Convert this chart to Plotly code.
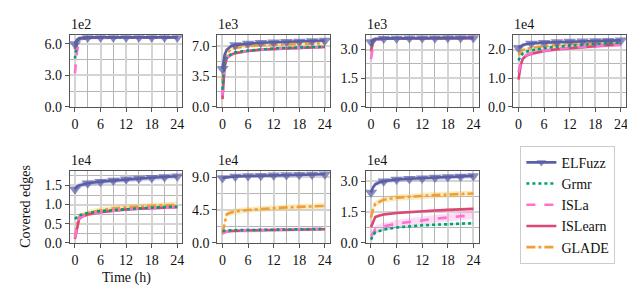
import plotly.graph_objects as go

# ---------------- data ----------------
hours = [0, 0.5, 1, 2, 3, 6, 9, 12, 15, 18, 21, 24]
series_names = ["ELFuzz", "Grmr", "ISLa", "ISLearn", "GLADE"]
exponents = ["1e2", "1e3", "1e3", "1e4", "1e4", "1e4", "1e4"]
y_major = [3.0, 3.5, 1.5, 1.0, 0.5, 4.5, 1.5]
y_top = [6.83, 8.27, 3.75, 2.5, 1.88, 9.85, 3.5]
x_ticks = [0, 6, 12, 18, 24]

p1 = {
    "ELFuzz":  [6.0, 6.4, 6.55, 6.6, 6.62, 6.63, 6.63, 6.63, 6.63, 6.63, 6.63, 6.63],
    "Grmr":    [4.6, 6.2, 6.45, 6.55, 6.58, 6.6, 6.6, 6.61, 6.61, 6.61, 6.61, 6.61],
    "ISLa":    [3.2, 5.3, 6.35, 6.5, 6.55, 6.58, 6.6, 6.6, 6.6, 6.6, 6.6, 6.6],
    "ISLearn": [5.5, 6.3, 6.45, 6.52, 6.56, 6.58, 6.59, 6.6, 6.6, 6.6, 6.6, 6.6],
    "GLADE":   [5.8, 6.35, 6.5, 6.56, 6.58, 6.6, 6.6, 6.61, 6.61, 6.61, 6.61, 6.61],
}
p2 = {
    "ELFuzz":  [4.4, 6.0, 6.6, 7.0, 7.15, 7.3, 7.4, 7.45, 7.5, 7.55, 7.6, 7.65],
    "Grmr":    [2.0, 5.0, 5.8, 6.1, 6.3, 6.5, 6.65, 6.75, 6.8, 6.85, 6.9, 6.95],
    "ISLa":    [1.3, 4.8, 5.7, 6.05, 6.25, 6.45, 6.6, 6.7, 6.75, 6.8, 6.85, 6.9],
    "ISLearn": [0.9, 4.6, 5.6, 6.0, 6.2, 6.45, 6.6, 6.7, 6.75, 6.8, 6.85, 6.9],
    "GLADE":   [3.0, 5.3, 6.2, 6.6, 6.8, 7.0, 7.1, 7.15, 7.2, 7.25, 7.3, 7.35],
}
p3 = {
    "ELFuzz":  [3.4, 3.52, 3.56, 3.58, 3.58, 3.59, 3.6, 3.6, 3.6, 3.61, 3.61, 3.62],
    "Grmr":    [3.2, 3.45, 3.54, 3.56, 3.57, 3.58, 3.59, 3.59, 3.6, 3.6, 3.6, 3.6],
    "ISLa":    [2.5, 3.2, 3.5, 3.55, 3.56, 3.57, 3.58, 3.58, 3.58, 3.58, 3.58, 3.58],
    "ISLearn": [2.9, 3.4, 3.52, 3.55, 3.56, 3.57, 3.58, 3.58, 3.58, 3.58, 3.58, 3.58],
    "GLADE":   [3.0, 3.4, 3.52, 3.55, 3.56, 3.57, 3.58, 3.58, 3.58, 3.58, 3.58, 3.58],
}
p4 = {
    "ELFuzz":  [2.06, 2.12, 2.16, 2.19, 2.21, 2.24, 2.26, 2.28, 2.29, 2.3, 2.31, 2.32],
    "Grmr":    [1.62, 1.78, 1.86, 1.93, 1.97, 2.05, 2.1, 2.14, 2.17, 2.2, 2.22, 2.24],
    "ISLa":    [1.2, 1.55, 1.72, 1.82, 1.87, 1.96, 2.02, 2.06, 2.1, 2.13, 2.15, 2.17],
    "ISLearn": [0.95, 1.45, 1.68, 1.8, 1.85, 1.95, 2.01, 2.05, 2.09, 2.12, 2.15, 2.17],
    "GLADE":   [1.8, 1.92, 1.98, 2.03, 2.06, 2.12, 2.16, 2.19, 2.21, 2.23, 2.24, 2.25],
}
p5 = {
    "ELFuzz":  [1.4, 1.47, 1.5, 1.53, 1.56, 1.6, 1.63, 1.66, 1.68, 1.7, 1.72, 1.74],
    "Grmr":    [0.62, 0.68, 0.72, 0.75, 0.78, 0.83, 0.86, 0.88, 0.9, 0.92, 0.93, 0.95],
    "ISLa":    [0.12, 0.45, 0.65, 0.71, 0.75, 0.8, 0.84, 0.87, 0.89, 0.9, 0.92, 0.93],
    "ISLearn": [0.1, 0.42, 0.63, 0.7, 0.74, 0.8, 0.84, 0.87, 0.89, 0.9, 0.92, 0.93],
    "GLADE":   [0.15, 0.5, 0.68, 0.74, 0.78, 0.85, 0.9, 0.93, 0.95, 0.97, 0.99, 1.0],
}
p6 = {
    "ELFuzz":  [8.9, 8.95, 9.0, 9.05, 9.1, 9.15, 9.2, 9.25, 9.3, 9.33, 9.37, 9.4],
    "Grmr":    [1.6, 1.65, 1.68, 1.7, 1.72, 1.75, 1.78, 1.8, 1.82, 1.84, 1.86, 1.88],
    "ISLa":    [1.3, 1.45, 1.55, 1.62, 1.66, 1.7, 1.74, 1.77, 1.8, 1.83, 1.86, 1.9],
    "ISLearn": [1.3, 1.45, 1.55, 1.6, 1.64, 1.68, 1.72, 1.75, 1.78, 1.8, 1.82, 1.84],
    "GLADE":   [1.3, 2.8, 3.9, 4.15, 4.3, 4.5, 4.65, 4.75, 4.85, 4.92, 4.98, 5.05],
}
p7 = {
    "ELFuzz":  [2.45, 2.7, 2.85, 2.95, 3.0, 3.08, 3.12, 3.15, 3.18, 3.2, 3.23, 3.26],
    "Grmr":    [0.15, 0.38, 0.5, 0.58, 0.64, 0.74, 0.8, 0.85, 0.88, 0.91, 0.93, 0.95],
    "ISLa":    [0.3, 0.5, 0.65, 0.73, 0.8, 0.93, 1.02, 1.1, 1.17, 1.23, 1.29, 1.35],
    "ISLearn": [0.75, 1.05, 1.25, 1.33, 1.38, 1.45, 1.5, 1.54, 1.57, 1.6, 1.62, 1.65],
    "GLADE":   [1.22, 1.65, 1.9, 2.02, 2.1, 2.2, 2.25, 2.29, 2.32, 2.35, 2.37, 2.4],
}
panels = [p1, p2, p3, p4, p5, p6, p7]

# band half-widths (spread) per panel per series: ELFuzz, Grmr, ISLa, ISLearn, GLADE
spreads = [
    [0.04, 0.04, 0.05, 0.04, 0.04],
    [0.2, 0.12, 0.15, 0.15, 0.15],
    [0.03, 0.02, 0.03, 0.02, 0.03],
    [0.06, 0.04, 0.06, 0.06, 0.05],
    [0.07, 0.03, 0.04, 0.03, 0.08],
    [0.2, 0.1, 0.25, 0.1, 0.4],
    [0.12, 0.06, 0.18, 0.06, 0.15],
]

# ---------------- styles ----------------
colors = {"ELFuzz": "#5b5ea6", "Grmr": "#009e73", "ISLa": "#ff6fd4",
          "ISLearn": "#dc4774", "GLADE": "#f29e38"}
band_colors = {"ELFuzz": "rgba(110,140,210,0.3)", "Grmr": "rgba(0,158,115,0.18)",
               "ISLa": "rgba(255,111,212,0.25)", "ISLearn": "rgba(220,71,116,0.2)",
               "GLADE": "rgba(242,200,80,0.35)"}
dashes = {"ELFuzz": "solid", "Grmr": "dot", "ISLa": "dash", "ISLearn": "solid",
          "GLADE": "dashdot"}
draw_order = ["GLADE", "ISLearn", "ISLa", "Grmr", "ELFuzz"]

W, H = 635, 298
lefts = [62, 210, 359, 507, 62, 210, 359]
tops = [27, 27, 27, 27, 167, 167, 167]
pw, ph = 113, 74
FONT = "Times New Roman, Liberation Serif, DejaVu Serif, serif"
FS = 14

fig = go.Figure()
annotations = []
for i, pdata in enumerate(panels):
    k = i + 1
    xa = "x" if k == 1 else f"x{k}"
    ya = "y" if k == 1 else f"y{k}"
    for name in draw_order:
        vals = pdata[name]
        s = spreads[i][series_names.index(name)]
        up = [v + s for v in vals]
        lo = [max(v - s, 0) for v in vals]
        fig.add_trace(go.Scatter(x=hours + hours[::-1], y=up + lo[::-1], fill="toself",
                                 fillcolor=band_colors[name], line=dict(width=0),
                                 mode="lines", hoverinfo="skip", showlegend=False,
                                 xaxis=xa, yaxis=ya))
    for name in draw_order:
        vals = pdata[name]
        is_elf = name == "ELFuzz"
        msize = [11 if (h % 3 == 0) else 0 for h in hours] if is_elf else None
        fig.add_trace(go.Scatter(
            x=hours, y=vals, name=name,
            mode="lines+markers" if is_elf else "lines",
            line=dict(color=colors[name], width=2.6, dash=dashes[name]),
            marker=dict(symbol="triangle-down", size=msize, color=colors[name],
                        line=dict(width=0)) if is_elf else None,
            showlegend=(k == 1), legendrank=series_names.index(name) + 1,
            xaxis=xa, yaxis=ya))

    x0 = lefts[i] / W
    x1 = (lefts[i] + pw) / W
    y1 = 1 - tops[i] / H
    y0 = 1 - (tops[i] + ph) / H
    common = dict(showline=True, linecolor="#555", linewidth=1, mirror=True,
                  ticks="outside", ticklen=4, tickcolor="#555",
                  showgrid=True, gridcolor="#d4d4d4", gridwidth=1.6,
                  tickfont=dict(family=FONT, size=FS, color="#111"), zeroline=False)
    fig.layout[f"xaxis{'' if k == 1 else k}"] = dict(
        domain=[x0, x1], anchor=ya, range=[-1.2, 25.2], tickvals=x_ticks,
        minor=dict(dtick=3, tick0=0, showgrid=True, gridcolor="#b5b5b5", gridwidth=0.7,
                   ticks=""), **common)
    fig.layout[f"yaxis{'' if k == 1 else k}"] = dict(
        domain=[y0, y1], anchor=xa, range=[0, y_top[i]], tick0=0, dtick=y_major[i],
        tickformat=".1f",
        minor=dict(dtick=y_major[i] / 2, tick0=0, showgrid=True, gridcolor="#b5b5b5",
                   gridwidth=0.7, ticks=""), **common)
    annotations.append(dict(text=exponents[i], xref="paper", yref="paper",
                            x=x0 - 1 / W, y=y1 + 1 / H, xanchor="left", yanchor="bottom",
                            showarrow=False, font=dict(family=FONT, size=FS, color="#111")))

annotations.append(dict(text="Covered edges", xref="paper", yref="paper",
                        x=18 / W, y=1 - 203 / H, textangle=-90, showarrow=False,
                        xanchor="center", yanchor="middle",
                        font=dict(family=FONT, size=FS, color="#111")))
annotations.append(dict(text="Time (h)", xref="paper", yref="paper",
                        x=119 / W, y=1 - 277 / H, showarrow=False,
                        xanchor="center", yanchor="middle",
                        font=dict(family=FONT, size=FS, color="#111")))

fig.update_layout(
    width=W, height=H, margin=dict(l=0, r=0, t=0, b=0),
    plot_bgcolor="white", paper_bgcolor="white",
    font=dict(family=FONT, size=FS, color="#111"),
    annotations=annotations,
    legend=dict(x=514 / W, y=1 - 141 / H, xanchor="left", yanchor="top",
                bordercolor="#cccccc", borderwidth=1,
                font=dict(family=FONT, size=FS, color="#111"), itemwidth=30,
                traceorder="normal"),
)
fig.write_html("out.html")
